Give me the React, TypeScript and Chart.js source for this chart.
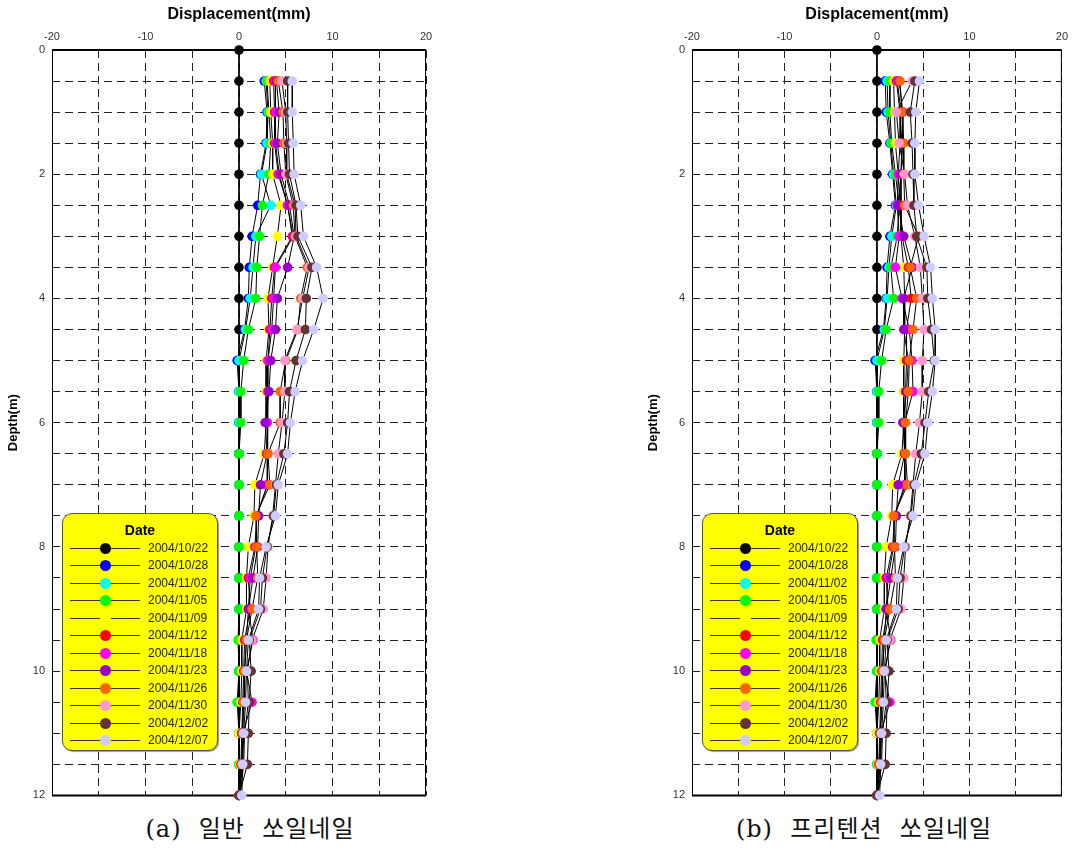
import React, { useEffect, useRef } from 'react';
import { Chart, registerables } from 'chart.js';
Chart.register(...registerables);

const depths = [0, 0.5, 1, 1.5, 2, 2.5, 3, 3.5, 4, 4.5, 5, 5.5, 6, 6.5, 7, 7.5, 8, 8.5, 9, 9.5, 10, 10.5, 11, 11.5, 12];
const dates = ['2004/10/22', '2004/10/28', '2004/11/02', '2004/11/05', '2004/11/09', '2004/11/12', '2004/11/18', '2004/11/23', '2004/11/26', '2004/11/30', '2004/12/02', '2004/12/07'];
const colors = ['#000000', '#0000ff', '#00ffff', '#00ff00', '#ffff00', '#ff0000', '#ff00ff', '#9900cc', '#ff6600', '#ff99cc', '#663333', '#ccccff'];

const xTicks = [-20, -10, 0, 10, 20];
const yTicks = [0, 2, 4, 6, 8, 10, 12];

// (a) general soil nail
const a1022 = [0, 0, 0, 0, 0, 0, 0, 0, 0, 0, 0, 0, 0, 0, 0, 0, 0, 0, 0, 0, 0, 0, 0, 0, 0];
const a1028 = [null, 2.7, 3.0, 2.9, 2.3, 2.0, 1.4, 1.1, 1.0, 0.6, -0.2, 0.0, 0.0, 0.0, 0.0, 0.0, 0.0, 0.0, 0.0, 0.0, 0.0, 0.0, 0.0, 0.0, 0.0];
const a1102 = [null, 2.9, 3.1, 3.0, 2.4, 3.4, 1.8, 1.5, 1.2, 0.7, 0.0, 0.0, 0.0, 0.0, 0.0, 0.0, 0.0, 0.0, 0.0, 0.0, 0.0, 0.0, 0.0, 0.0, 0.0];
const a1105 = [null, 3.0, 3.2, 3.4, 3.2, 2.5, 2.2, 1.9, 1.8, 1.0, 0.5, 0.2, 0.2, 0.0, 0.0, 0.0, 0.0, 0.0, 0.0, -0.1, 0.0, -0.2, 0.0, 0.0, 0.0];
const a1109 = [null, 3.3, 3.4, 3.6, 3.6, 4.5, 4.1, 3.6, 3.1, 3.2, 2.9, 2.9, 2.9, 2.7, 1.7, 1.6, 1.0, 0.8, 0.8, 0.3, 0.3, 0.2, 0.0, 0.1, 0.0];
const a1112 = [null, 3.7, 3.8, 3.8, 4.2, 5.2, 5.7, 3.8, 3.5, 3.3, 3.1, 3.1, 3.0, 3.0, 3.1, 1.9, 1.7, 1.0, 1.2, 0.6, 0.5, 0.4, 0.3, 0.2, 0.0];
const a1118 = [null, 3.9, 3.9, 3.9, 4.3, 5.2, 5.8, 3.9, 3.7, 3.5, 3.1, 3.1, 3.0, 3.0, 3.0, 1.9, 1.8, 1.2, 1.0, 1.5, 0.8, 1.4, 0.4, 0.3, 0.0];
const a1123 = [null, 4.0, 4.3, 4.1, 4.5, 5.4, 5.9, 5.2, 4.1, 3.9, 3.4, 3.2, 2.8, 3.0, 2.3, 2.1, 2.0, 1.5, 1.0, 0.8, 0.6, 0.6, 0.3, 0.4, 0.0];
const a1126 = [null, 4.2, 4.7, 4.8, 5.0, 5.8, 6.0, 7.3, 6.6, 6.3, 5.0, 4.4, 4.4, 3.1, 3.3, 1.8, 1.9, 2.0, 1.4, 0.8, 0.6, 0.5, 0.4, 0.3, 0.0];
const a1130 = [null, 4.6, 5.0, 5.1, 5.1, 6.0, 6.1, 7.5, 6.8, 6.2, 4.9, 4.9, 4.6, 4.2, 3.9, 3.6, 3.1, 2.9, 2.6, 1.4, 0.9, 1.0, 0.6, 0.5, 0.1];
const a1202 = [null, 5.2, 5.2, 5.3, 5.4, 6.1, 6.3, 7.8, 7.2, 7.1, 6.1, 5.4, 5.2, 4.8, 4.0, 3.7, 3.0, 2.5, 2.3, 1.1, 1.3, 1.1, 1.0, 0.9, 0.0];
const a1207 = [null, 5.7, 5.7, 5.8, 5.9, 6.6, 6.9, 8.3, 9.0, 8.0, 6.8, 6.0, 5.5, 5.2, 4.2, 3.9, 2.9, 2.2, 2.1, 1.0, 0.8, 0.7, 0.5, 0.4, 0.3];

// (b) pretension soil nail
const b1022 = [0, 0, 0, 0, 0, 0, 0, 0, 0, 0, 0, 0, 0, 0, 0, 0, 0, 0, 0, 0, 0, 0, 0, 0, 0];
const b1028 = [null, 0.9, 1.0, 1.4, 1.7, 2.0, 1.4, 1.1, 1.0, 0.7, -0.2, 0.0, 0.0, 0.0, 0.0, 0.0, 0.0, 0.0, 0.0, 0.0, 0.0, 0.0, 0.0, 0.0, 0.0];
const b1102 = [null, 1.1, 1.2, 1.5, 1.8, 2.1, 1.6, 1.3, 1.1, 0.8, 0.0, 0.0, 0.0, 0.0, 0.0, 0.0, 0.0, 0.0, 0.0, 0.0, 0.0, 0.0, 0.0, 0.0, 0.0];
const b1105 = [null, 1.4, 1.4, 1.6, 2.0, 2.4, 2.2, 1.5, 1.8, 1.0, 0.5, 0.2, 0.2, 0.0, 0.0, 0.0, 0.0, 0.0, 0.0, -0.1, 0.0, -0.2, 0.0, 0.0, 0.0];
const b1109 = [null, 1.8, 1.9, 2.0, 2.3, 2.5, 2.6, 2.9, 3.0, 3.0, 2.9, 2.9, 2.9, 2.7, 1.7, 1.6, 1.0, 0.8, 0.8, 0.3, 0.3, 0.2, 0.0, 0.1, 0.0];
const b1112 = [null, 2.1, 2.5, 2.7, 2.6, 2.6, 2.7, 3.4, 3.7, 3.2, 3.2, 3.1, 3.0, 3.0, 3.1, 1.9, 1.7, 1.0, 1.2, 0.6, 0.5, 0.4, 0.3, 0.2, 0.0];
const b1118 = [null, 2.2, 2.6, 2.5, 2.3, 2.2, 2.4, 2.0, 2.7, 3.5, 3.8, 3.9, 3.0, 3.0, 3.0, 1.9, 1.8, 1.2, 1.0, 1.5, 0.8, 1.4, 0.4, 0.3, 0.0];
const b1123 = [null, 2.4, 2.8, 2.8, 2.6, 2.3, 2.9, 3.8, 2.9, 2.9, 3.4, 3.2, 2.8, 3.0, 2.3, 2.1, 2.0, 1.5, 1.0, 0.8, 0.6, 0.6, 0.3, 0.4, 0.0];
const b1126 = [null, 2.5, 2.7, 2.9, 2.9, 3.0, 4.5, 3.6, 4.3, 3.9, 3.5, 3.4, 3.1, 3.1, 3.3, 1.8, 1.9, 2.0, 1.4, 0.8, 0.6, 0.5, 0.4, 0.3, 0.0];
const b1130 = [null, 3.8, 2.1, 2.4, 3.0, 3.3, 4.1, 4.7, 4.9, 5.1, 4.9, 4.9, 4.6, 4.2, 3.9, 3.6, 3.1, 2.9, 2.6, 1.4, 0.9, 1.0, 0.6, 0.5, 0.1];
const b1202 = [null, 4.1, 3.6, 3.8, 3.9, 4.0, 4.3, 5.4, 5.5, 5.9, 6.2, 5.6, 5.2, 4.8, 4.0, 3.7, 3.0, 2.5, 2.3, 1.1, 1.3, 1.1, 1.0, 0.9, 0.0];
const b1207 = [null, 4.6, 4.2, 4.1, 4.1, 4.5, 5.1, 5.8, 6.0, 6.3, 6.3, 6.0, 5.5, 5.2, 4.2, 3.9, 2.9, 2.2, 2.1, 1.0, 0.8, 0.7, 0.5, 0.4, 0.3];

const seriesA = [a1022, a1028, a1102, a1105, a1109, a1112, a1118, a1123, a1126, a1130, a1202, a1207];
const seriesB = [b1022, b1028, b1102, b1105, b1109, b1112, b1118, b1123, b1126, b1130, b1202, b1207];

const framePlugin = {
  id: 'frame',
  beforeDatasetsDraw(chart: any) {
    const { ctx, chartArea: a } = chart;
    ctx.save();
    ctx.strokeStyle = '#000';
    ctx.lineWidth = 1;
    ctx.beginPath();
    ctx.moveTo(a.left + 0.5, a.top);
    ctx.lineTo(a.left + 0.5, a.bottom);
    ctx.moveTo(a.right - 0.5, a.top);
    ctx.lineTo(a.right - 0.5, a.bottom);
    ctx.stroke();
    ctx.lineWidth = 2;
    ctx.beginPath();
    ctx.moveTo(a.left, a.top);
    ctx.lineTo(a.right, a.top);
    ctx.moveTo(a.left, a.bottom);
    ctx.lineTo(a.right, a.bottom);
    ctx.stroke();
    ctx.restore();
  },
};

function makeConfig(series: (number | null)[][], padRight: number): any {
  const tickFont = { family: "'Liberation Sans', Arial, sans-serif", size: 11 };
  return {
    type: 'scatter',
    data: {
      datasets: series.map((vals, i) => ({
        label: dates[i],
        data: depths
          .map((d, j) => ({ x: vals[j], y: d }))
          .filter((p) => p.x !== null),
        showLine: true,
        borderColor: '#000',
        borderWidth: 1,
        pointRadius: 4.8,
        pointBackgroundColor: colors[i],
        pointBorderColor: colors[i],
        pointBorderWidth: 0,
        order: series.length - i,
        clip: false,
      })),
    },
    options: {
      animation: false,
      responsive: false,
      indexAxis: 'y',
      events: [],
      layout: { padding: { left: 0, top: 0, right: padRight, bottom: 10 } },
      plugins: { legend: { display: false }, tooltip: { enabled: false } },
      scales: {
        x: {
          type: 'linear',
          position: 'top',
          min: -20,
          max: 20,
          afterFit: (s: any) => { s.height = 50; },
          afterBuildTicks: (s: any) => {
            const t: any[] = [];
            for (let v = -20; v <= 20; v += 5) t.push({ value: v });
            s.ticks = t;
          },
          ticks: {
            autoSkip: false,
            maxRotation: 0,
            padding: 6,
            color: '#333',
            font: tickFont,
            callback: (v: number) => (xTicks.includes(v) ? String(v) : ''),
          },
          grid: { color: '#222', lineWidth: 1, drawTicks: false },
          border: { display: false, dash: [8, 5] },
          title: {
            display: true,
            text: 'Displacement(mm)',
            color: '#000',
            font: { family: "'Liberation Sans', Arial, sans-serif", size: 16, weight: 'bold' },
            padding: { top: 5, bottom: 0 },
          },
        },
        y: {
          type: 'linear',
          reverse: true,
          min: 0,
          max: 12,
          afterFit: (s: any) => { s.width = 52; },
          afterBuildTicks: (s: any) => {
            const t: any[] = [];
            for (let v = 0; v <= 12; v += 0.5) t.push({ value: v });
            s.ticks = t;
          },
          ticks: {
            autoSkip: false,
            padding: 7,
            color: '#333',
            font: tickFont,
            callback: (v: number) => (yTicks.includes(v) ? String(v) : ''),
          },
          grid: { color: '#222', lineWidth: 1, drawTicks: false },
          border: { display: false, dash: [8, 5] },
          title: {
            display: true,
            text: 'Depth(m)',
            color: '#000',
            font: { family: "'Liberation Sans', Arial, sans-serif", size: 13, weight: 'bold' },
            padding: { top: 6, bottom: 4 },
          },
        },
      },
    },
    plugins: [framePlugin],
  };
}

function Legend({ left }: { left: number }) {
  return (
    <div
      style={{
        position: 'absolute',
        left,
        top: 513,
        width: 154,
        height: 236,
        background: '#ffff00',
        border: '1px solid #555',
        borderRadius: 10,
        boxShadow: '1px 1px 1px #999',
        fontFamily: "'Liberation Sans', Arial, sans-serif",
      }}
    >
      <div style={{ position: 'absolute', left: 0, width: 154, top: 8, textAlign: 'center', fontWeight: 'bold', fontSize: 14, color: '#000' }}>
        Date
      </div>
      {dates.map((d, i) => (
        <div key={d} style={{ position: 'absolute', left: 0, top: 26 + i * 17.45, height: 16, width: 154 }}>
          <div style={{ position: 'absolute', left: 7, width: 70, top: 8, height: 1, background: '#333' }} />
          <div style={{ position: 'absolute', left: 37, top: 3, width: 11, height: 11, borderRadius: 6, background: colors[i] }} />
          <div style={{ position: 'absolute', left: 85, top: 1, fontSize: 12, color: '#222', whiteSpace: 'nowrap' }}>{d}</div>
        </div>
      ))}
    </div>
  );
}

function Panel({ series, left, width, padRight }: { series: (number | null)[][]; left: number; width: number; padRight: number }) {
  const ref = useRef<HTMLCanvasElement | null>(null);
  useEffect(() => {
    if (!ref.current) return;
    const chart = new Chart(ref.current, makeConfig(series, padRight));
    return () => chart.destroy();
  }, []);
  return <canvas ref={ref} width={width} height={809} style={{ position: 'absolute', left, top: 0, width, height: 809 }} />;
}

export default function App() {
  useEffect(() => {
    document.body.style.margin = '0';
  }, []);
  const capStyle: React.CSSProperties = {
    position: 'absolute',
    top: 809,
    width: 400,
    textAlign: 'center',
    fontFamily: "'DejaVu Serif', 'Noto Sans CJK KR', serif",
    fontSize: 24,
    letterSpacing: 1,
    color: '#111',
    whiteSpace: 'pre',
  };
  return (
    <div style={{ position: 'relative', width: 1074, height: 850, background: '#fff', overflow: 'hidden' }}>
      <Panel series={seriesA} left={0} width={440} padRight={14} />
      <Panel series={seriesB} left={640} width={434} padRight={8} />
      <Legend left={62} />
      <Legend left={702} />
      <div style={{ ...capStyle, left: 50 }}>{'(a)  일반  쏘일네일'}</div>
      <div style={{ ...capStyle, left: 664 }}>{'(b)  프리텐션  쏘일네일'}</div>
    </div>
  );
}
